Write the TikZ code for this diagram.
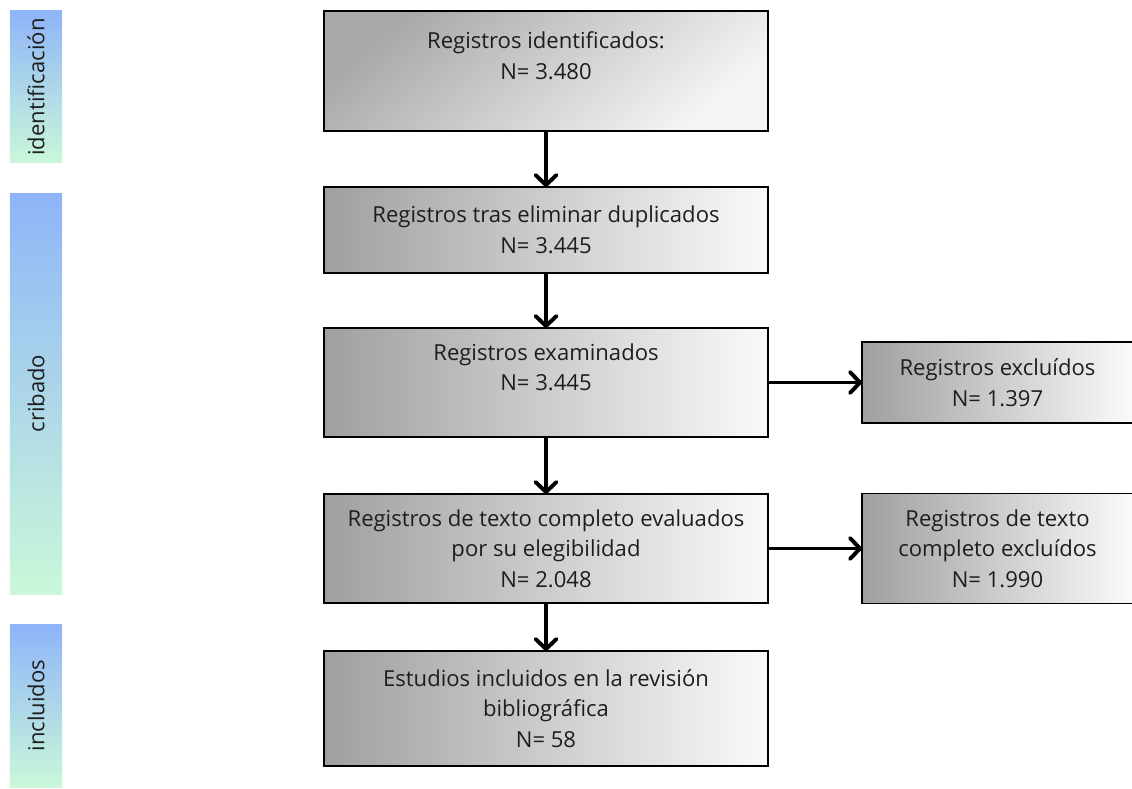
\documentclass[tikz,border=0pt]{standalone}
\usepackage{fontspec}
\setmainfont{Open Sans}
\usepackage{tikz}
\usetikzlibrary{arrows.meta, positioning}

\definecolor{barblue}{HTML}{8FB4F8}
\definecolor{bargreen}{HTML}{CAF8D9}
\definecolor{txtgray}{HTML}{1E1E1E}

\begin{document}
\begin{tikzpicture}[
			every node/.style={font=\fontsize{15.7}{21.7}\selectfont, text=txtgray},
			box/.style={draw, line width=1.4pt, minimum width=11.1cm,
				align=center, inner sep=0pt, outer sep=0pt,
				left color=gray!75, right color=white!98!black},
			exbox/.style={box, minimum width=6.775cm},
			phase/.style={minimum width=1.3cm, inner sep=0pt,
				top color=barblue, bottom color=bargreen},
			arr/.style={-{Straight Barb[length=2.5mm, width=5.2mm, round]},
				line width=2.8pt},
			]
			\useasboundingbox (0,0) rectangle (28.3,-19.725);

			% =============================================================
			%  PHASE BARS (left)
			% =============================================================
			\node[phase, minimum height=3.8cm] (baridt) at (0.9,-2.175)
			{\rotatebox{90}{identificación}};
			\node[phase, minimum height=10.025cm] (barcrib) at (0.9,-9.84)
			{\rotatebox{90}{cribado}};
			\node[phase, minimum height=4.075cm] (barincl) at (0.9,-17.64)
			{\rotatebox{90}{incluidos}};

			% =============================================================
			%  MAIN FLOW
			% =============================================================
			% --- Identified ---
			\node[box, minimum height=3.0cm, shading=axis,
			top color=gray!68, bottom color=white!96!black,
			shading angle=40] (ident) at (13.65,-1.775)
			{Registros identificados:\\N= 3.480\\\mbox{}};

			% --- After duplicates ---
			\node[box, minimum height=2.15cm,
			below=1.4cm of ident] (dupl)
			{Registros tras eliminar duplicados\\N= 3.445};

			% --- Screened ---
			\node[box, minimum height=2.725cm,
			below=1.375cm of dupl] (exam)
			{Registros examinados\\N= 3.445\\\mbox{}};

			% --- Full text ---
			\node[box, minimum height=2.725cm,
			below=1.425cm of exam] (elig)
			{Registros de texto completo evaluados\\por su elegibilidad\\N= 2.048};

			% --- Included ---
			\node[box, minimum height=2.875cm,
			below=1.2cm of elig] (incl)
			{Estudios incluidos en la revisión\\bibliográfica\\N= 58};

			% --- Excluded (right) ---
			\node[exbox, minimum height=2.025cm,
			right=2.35cm of exam] (excl)
			{Registros excluídos\\N= 1.397};
			\node[exbox, minimum height=2.75cm,
			right=2.35cm of elig] (exclft)
			{Registros de texto\\completo excluídos\\N= 1.990};

			% ---- ARROWS ----
			\draw[arr] (ident) -- (dupl);
			\draw[arr] (dupl) -- (exam);
			\draw[arr] (exam) -- (elig);
			\draw[arr] (elig) -- (incl);
			\draw[arr] (exam) -- (excl);
			\draw[arr] (elig) -- (exclft);
		\end{tikzpicture}
\end{document}
